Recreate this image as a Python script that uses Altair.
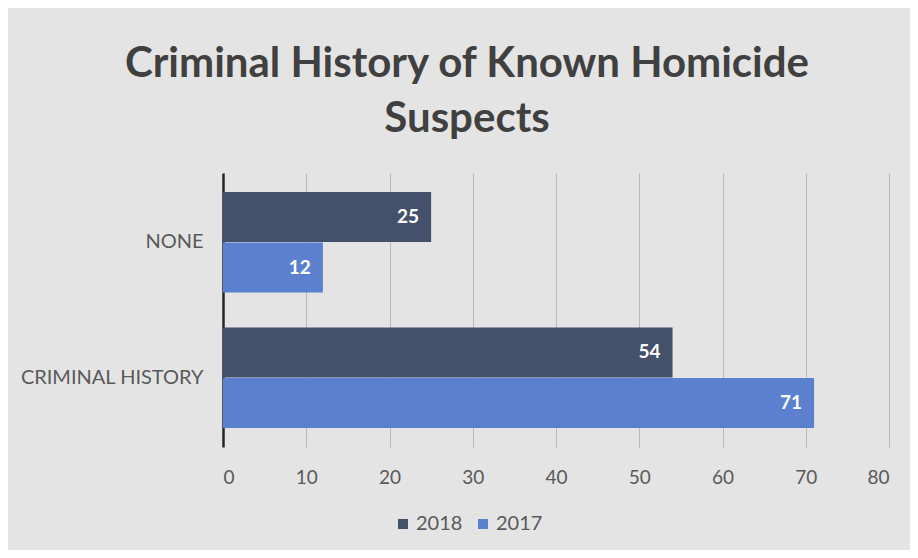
import altair as alt
import pandas as pd

categories = ["NONE", "CRIMINAL HISTORY"]
years = ["2018", "2017"]
values_2018 = [25, 54]
values_2017 = [12, 71]
x_ticks = [0, 10, 20, 30, 40, 50, 60, 70, 80]

rows = []
for i, c in enumerate(categories):
    rows.append({"category": c, "year": "2018", "value": values_2018[i]})
    rows.append({"category": c, "year": "2017", "value": values_2017[i]})
df = pd.DataFrame(rows)

FONT = "Lato"
GRAY = "#595959"

y_enc = alt.Y("category:N", sort=categories,
              scale=alt.Scale(paddingInner=0.257, paddingOuter=0.14),
              axis=alt.Axis(title=None, labelFontSize=20, labelColor=GRAY, labelFont=FONT,
                            labelLimit=400, ticks=False, labelPadding=20, domain=True,
                            domainColor="#262626", domainWidth=2.5, grid=False))
yoff = alt.YOffset("year:N", sort=years, scale=alt.Scale(paddingInner=0.01, paddingOuter=0))
x_enc = alt.X("value:Q", scale=alt.Scale(domain=[0, 80], nice=False),
              axis=alt.Axis(title=None, values=x_ticks, labelFontSize=19, labelColor=GRAY,
                            labelFont=FONT, domain=False, ticks=False, labelPadding=21,
                            grid=True, gridColor="#b8b8b8", gridWidth=1))

bars = alt.Chart(df).mark_bar(size=50).encode(
    x=x_enc,
    y=y_enc,
    yOffset=yoff,
    color=alt.Color("year:N", sort=years,
                    scale=alt.Scale(domain=years, range=["#43516a", "#5b80cd"]),
                    legend=alt.Legend(title=None, orient="none", legendX=170, legendY=341,
                                      direction="horizontal", symbolType="square",
                                      symbolSize=100, symbolStrokeWidth=0,
                                      labelFontSize=20, labelColor=GRAY, labelFont=FONT,
                                      labelOffset=3, columnPadding=10)),
)

labels = alt.Chart(df).mark_text(align="right", baseline="middle", dx=-12,
                                 color="white", fontSize=19, fontWeight="bold",
                                 font=FONT).encode(
    x=alt.X("value:Q"),
    y=alt.Y("category:N", sort=categories),
    yOffset=alt.YOffset("year:N", sort=years),
    text=alt.Text("value:Q"),
)

chart = alt.layer(bars, labels).properties(
    width=666,
    height=274,
    autosize=alt.AutoSizeParams(type="none"),
    padding={"left": 215, "top": 165, "right": 21, "bottom": 103},
    background="#e4e4e4",
    title=alt.TitleParams(
        text=["Criminal History of Known Homicide", "Suspects"],
        font=FONT, fontSize=42, fontWeight="bold", color="#404040",
        anchor="middle", dx=-89, offset=32, lineHeight=55,
    ),
).configure_view(stroke=None)

chart.save("out.html", embed_options={"renderer": "svg", "actions": False})
